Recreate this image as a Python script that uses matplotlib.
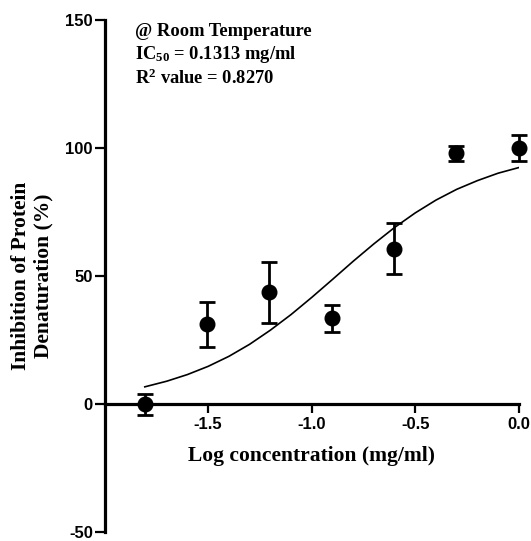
import matplotlib
matplotlib.use("Agg")
import matplotlib.pyplot as plt

# measured data (log concentration in mg/ml)
log_conc = [-1.806, -1.505, -1.204, -0.903, -0.602, -0.301, 0.0]
inhibition = [0.0, 31.2, 43.7, 33.5, 60.8, 98.0, 100.0]
sem = [4.0, 8.7, 12.0, 5.3, 10.0, 3.0, 5.0]

# fitted curve
fit_x = [-1.806, -1.7, -1.6, -1.5, -1.4, -1.3, -1.2, -1.1, -1.0, -0.9,
         -0.8, -0.7, -0.6, -0.5, -0.4, -0.3, -0.2, -0.1, 0.0]
fit_y = [6.8, 9.0, 11.6, 14.8, 18.7, 23.4, 28.9, 35.0, 41.7, 48.7,
         55.8, 62.6, 69.0, 74.7, 79.7, 83.9, 87.3, 90.2, 92.4]

x_ticks = [-1.5, -1.0, -0.5, 0.0]
x_ticklabels = ["-1.5", "-1.0", "-0.5", "0.0"]
y_ticks = [-50, 0, 50, 100, 150]

notes = [r"@ Room Temperature",
         r"IC$_{50}$ = 0.1313 mg/ml",
         r"R$^{2}$ value = 0.8270"]

plt.rcParams["axes.unicode_minus"] = False
plt.rcParams["mathtext.fontset"] = "custom"
plt.rcParams["mathtext.rm"] = "Liberation Serif:bold"
plt.rcParams["mathtext.it"] = "Liberation Serif:bold"
plt.rcParams["mathtext.bf"] = "Liberation Serif:bold"

fig = plt.figure(figsize=(5.31, 5.41), dpi=100)
ax = fig.add_axes([0.197, 0.016, 0.780, 0.947])

ax.plot(fit_x, fit_y, color="black", lw=1.2, zorder=2)
ax.errorbar(log_conc, inhibition, yerr=sem, fmt="o", color="black",
            markersize=10.5, elinewidth=2.0, capsize=5.8, capthick=2.0,
            clip_on=False, zorder=3)

ax.set_xlim(-2.0, 0.0)
ax.set_ylim(-50, 150)

ax.spines["top"].set_visible(False)
ax.spines["right"].set_visible(False)
ax.spines["bottom"].set_position(("data", 0))
ax.spines["left"].set_linewidth(2.3)
ax.spines["bottom"].set_linewidth(2.3)

ax.set_xticks(x_ticks)
ax.set_xticklabels(x_ticklabels)
ax.set_yticks(y_ticks)
ax.tick_params(axis="x", direction="out", length=6.5, width=1.6, pad=3)
ax.tick_params(axis="y", direction="out", length=7.5, width=1.6, pad=1)
for lab in ax.get_xticklabels() + ax.get_yticklabels():
    lab.set_fontfamily("Liberation Sans")
    lab.set_fontweight("bold")
    lab.set_fontsize(12)

ax.set_xlabel("Log concentration (mg/ml)", fontfamily="Liberation Serif",
              fontweight="bold", fontsize=15.5)
ax.xaxis.set_label_coords(0.5, 0.168)
ax.set_ylabel("Inhibition of Protein\nDenaturation (%)",
              fontfamily="Liberation Serif", fontweight="bold", fontsize=15.5,
              linespacing=1.15)
ax.yaxis.set_label_coords(-0.124, 0.5)

for i, t in enumerate(notes):
    ax.text(-1.853, 145.7 - i * 9.2, t, fontfamily="Liberation Serif",
            fontweight="bold", fontsize=13.3, ha="left", va="center")

fig.savefig("out.png", dpi=100)
